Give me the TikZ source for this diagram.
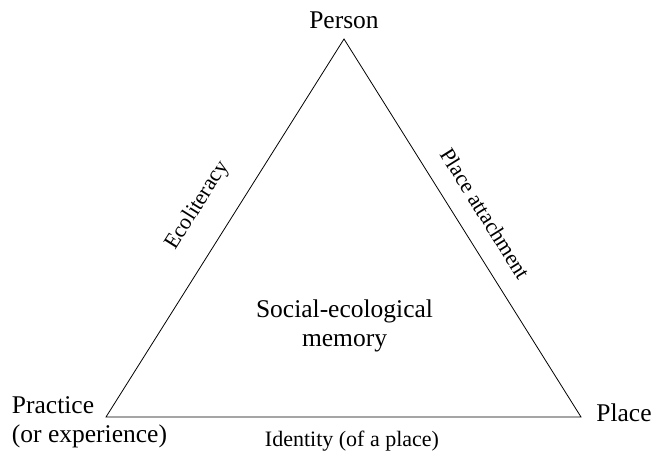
\documentclass[tikz,border=0pt]{standalone}
\usepackage{fontspec}
\setmainfont{Liberation Serif}
\usetikzlibrary{calc}

\begin{document}
\begin{tikzpicture}[x=1pt,y=1pt,
      vertex/.style={
        font=\fontsize{25.5}{29}\selectfont,inner sep=0pt
      },
      edgelab/.style={
        font=\fontsize{22}{26}\selectfont,inner sep=0pt
      }
    ]
    \useasboundingbox (0,0) rectangle (652,460);
    \coordinate (prac) at (106,43);
    \coordinate (pers) at (344,421);
    \coordinate (plac) at (581,43);
    \draw [line width=0.8pt,line join=miter] (prac) -- (pers) -- (plac) -- cycle;
    \node [vertex] (person) at (344,440) {Person};
    \node [vertex,align=left] (practice) at (89.5,37.5) {Practice\\(or experience)};
    \node [vertex] (place) at (624,47) {Place};
    \node [vertex,align=center] (memory) at (344.5,134.5) {Social-ecological\\memory};
    \node [edgelab,rotate=57.8] (eco) at ($(prac)!0.51!(pers)!35pt!90:(pers)$) {Ecoliteracy};
    \node [edgelab,rotate=-57.9] (attach) at ($(pers)!0.5!(plac)!27pt!90:(plac)$) {Place attachment};
    \node [edgelab] (ident) at (352,19) {Identity (of a place)};
  \end{tikzpicture}
\end{document}
